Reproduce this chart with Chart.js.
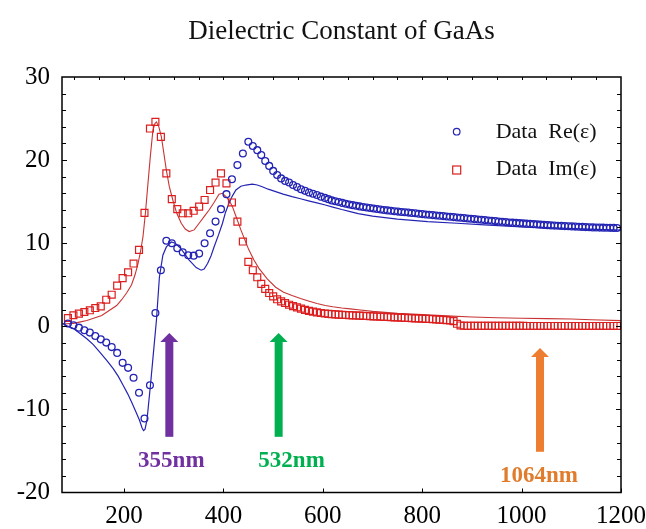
<!DOCTYPE html>
<html><head><meta charset="utf-8">
<script src="https://cdn.jsdelivr.net/npm/chart.js@4.4.0/dist/chart.umd.min.js"></script>
<style>html,body{margin:0;padding:0;background:#fff}canvas{display:block}</style>
</head><body>
<canvas id="c" width="646" height="529"></canvas>
<script>
const chartTitle = 'Dielectric Constant of GaAs';
const legendLabels = ['Data  Re(\u03b5)', 'Data  Im(\u03b5)'];
const laserLabels = ['355nm', '532nm', '1064nm'];

// wavelength grid (nm) shared by both data series
const wavelength = [
  87, 98, 109, 120, 131, 142, 153, 164, 175, 186,
  197, 208, 219, 230, 241, 252, 263, 274, 285, 296,
  307, 318, 329, 340, 351, 362, 373, 384, 395, 406,
  417, 428, 439, 450, 459, 468, 476, 484, 492, 500,
  508, 516, 524, 532, 540, 548, 556, 564, 572, 580,
  588, 596, 604, 611, 618, 625, 632, 639, 646, 653,
  660, 667, 674, 681, 688, 695, 702, 709, 716, 723,
  730, 737, 744, 751, 758, 765, 772, 779, 786, 793,
  800, 807, 814, 821, 828, 835, 842, 849, 856, 863,
  870, 877, 884, 891, 898, 905, 912, 919, 926, 933,
  940, 947, 954, 961, 968, 975, 982, 989, 996, 1003,
  1010, 1017, 1024, 1031, 1038, 1045, 1052, 1059, 1066, 1073,
  1080, 1087, 1094, 1101, 1108, 1115, 1122, 1129, 1136, 1143,
  1150, 1157, 1164, 1171, 1178, 1185, 1192
];
// Re(eps) data (circles)
const reData = [
  0.33, 0.12, -0.16, -0.48, -0.76, -1.17, -1.57, -1.96, -2.5, -3.2,
  -4.4, -5.0, -6.2, -8.0, -11.1, -7.1, 1.6, 6.75, 10.3, 10.0,
  9.4, 8.9, 8.55, 8.5, 8.75, 10.0, 11.2, 12.6, 14.1, 15.9,
  17.7, 19.4, 20.8, 22.2, 21.7, 21.2, 20.6, 19.9, 19.3, 18.7,
  18.2, 17.8, 17.5, 17.3, 17.0, 16.75, 16.5, 16.3, 16.1, 15.95,
  15.8, 15.6, 15.45, 15.3, 15.15, 15.05, 14.95, 14.85, 14.75, 14.65,
  14.58, 14.5, 14.43, 14.36, 14.3, 14.24, 14.18, 14.12, 14.06, 14.0,
  13.95, 13.9, 13.85, 13.8, 13.76, 13.72, 13.68, 13.64, 13.6, 13.55,
  13.5, 13.46, 13.42, 13.38, 13.34, 13.3, 13.26, 13.22, 13.18, 13.14,
  13.1, 13.06, 13.02, 12.98, 12.94, 12.9, 12.86, 12.82, 12.78, 12.74,
  12.7, 12.66, 12.62, 12.58, 12.54, 12.5, 12.47, 12.44, 12.41, 12.38,
  12.35, 12.32, 12.29, 12.26, 12.23, 12.2, 12.17, 12.14, 12.12, 12.1,
  12.08, 12.06, 12.04, 12.02, 12.0, 11.98, 11.96, 11.94, 11.92, 11.9,
  11.89, 11.88, 11.87, 11.86, 11.85, 11.84, 11.83
];
// Im(eps) data (squares)
const imData = [
  1.0, 1.33, 1.53, 1.72, 1.93, 2.2, 2.4, 3.2, 3.8, 4.9,
  5.8, 6.5, 7.55, 9.2, 13.65, 23.8, 24.6, 22.8, 18.4, 15.3,
  14.1, 13.6, 13.6, 13.9, 14.4, 15.2, 16.4, 17.3, 18.4, 17.2,
  14.9, 12.6, 10.2, 7.75, 6.75, 5.9, 5.1, 4.5, 4.0, 3.6,
  3.25, 3.0, 2.8, 2.6, 2.42, 2.27, 2.12, 1.98, 1.86, 1.76,
  1.67, 1.6, 1.54, 1.5, 1.47, 1.44, 1.41, 1.38, 1.36, 1.34,
  1.32, 1.3, 1.28, 1.26, 1.24, 1.22, 1.2, 1.18, 1.16, 1.14,
  1.12, 1.1, 1.08, 1.06, 1.04, 1.02, 1.0, 0.98, 0.96, 0.94,
  0.92, 0.9, 0.88, 0.86, 0.84, 0.81, 0.78, 0.74, 0.7, 0.62,
  0.3, 0.1, 0.06, 0.05, 0.05, 0.05, 0.05, 0.05, 0.05, 0.05,
  0.05, 0.05, 0.05, 0.05, 0.05, 0.05, 0.05, 0.05, 0.05, 0.05,
  0.04, 0.04, 0.04, 0.04, 0.04, 0.04, 0.04, 0.04, 0.04, 0.04,
  0.04, 0.04, 0.04, 0.04, 0.04, 0.04, 0.04, 0.04, 0.04, 0.04,
  0.04, 0.04, 0.04, 0.04, 0.04, 0.04, 0.04
];
// model fit curves
const reFitX = [76, 85, 98, 110, 125, 138, 151, 165, 178, 188, 198, 207, 215, 223, 231, 236, 239, 242, 246, 249, 253, 259, 265, 271, 278, 285, 295, 303, 311, 321, 331, 345, 355, 361, 368, 375, 381, 390, 398, 404, 411, 418, 425, 435, 445, 458, 468, 478, 490, 505, 520, 538, 555, 571, 588, 605, 620, 638, 655, 671, 700, 750, 811, 870, 925, 1000, 1100, 1200];
const reFitY = [0.35, 0.05, -0.28, -0.8, -1.5, -2.2, -3.1, -4.1, -5.1, -6.0, -7.1, -8.1, -9.1, -10.2, -11.3, -12.2, -12.55, -12.4, -11.3, -9.5, -7.1, -3.2, 0.7, 5.9, 8.55, 9.55, 10.15, 10.0, 9.55, 8.8, 7.95, 7.07, 6.75, 6.9, 7.55, 8.5, 9.55, 11.0, 12.4, 13.7, 14.8, 15.7, 16.4, 16.85, 17.0, 17.1, 17.0, 16.8, 16.5, 16.2, 15.9, 15.6, 15.35, 15.1, 14.85, 14.6, 14.35, 14.05, 13.8, 13.55, 13.25, 12.9, 12.6, 12.4, 12.2, 11.95, 11.75, 11.58];
const imFitX = [76, 85, 98, 110, 125, 140, 155, 170, 185, 195, 205, 215, 222, 228, 233, 238, 243, 248, 253, 258, 262, 265, 270, 275, 280, 285, 291, 298, 306, 315, 323, 331, 341, 351, 361, 371, 381, 391, 398, 405, 412, 418, 426, 435, 443, 451, 461, 471, 488, 505, 521, 538, 555, 571, 588, 605, 620, 638, 655, 671, 700, 750, 800, 850, 900, 950, 1000, 1050, 1100, 1140, 1200];
const imFitY = [0.3, 0.3, 0.35, 0.5, 0.7, 1.0, 1.3, 1.9, 2.5, 3.2, 4.0, 5.0, 6.2, 7.55, 9.0, 10.8, 13.7, 17.2, 20.6, 23.6, 24.4, 24.6, 24.0, 22.8, 20.8, 18.8, 16.8, 15.2, 13.6, 12.4, 11.7, 11.4, 11.6, 12.4, 13.2, 14.0, 14.9, 15.9, 16.0, 15.6, 15.1, 14.4, 13.1, 11.6, 10.4, 9.2, 8.0, 7.0, 5.7, 4.7, 4.1, 3.7, 3.35, 3.05, 2.75, 2.5, 2.35, 2.2, 2.1, 2.0, 1.8, 1.55, 1.4, 1.25, 1.12, 1.03, 0.96, 0.92, 0.88, 0.78, 0.68];

const xTicks = [200, 400, 600, 800, 1000, 1200];
const yTicks = [-20, -10, 0, 10, 20, 30];
const yMinorTicks = [-18, -16, -14, -12, -10, -8, -6, -4, -2, 0, 2, 4, 6, 8, 10, 12, 14, 16, 18, 20, 22, 24, 26, 28];
const xTopTicks = [100, 150, 200, 250, 300, 350, 400, 450, 500, 550, 600, 650, 700, 750, 800, 850, 900, 950, 1000, 1050, 1100, 1150];

const SERIF = '"Liberation Serif", "Times New Roman", serif';
const BLUE = '#2424b4';
const RED = '#dc1e1e';
const RED_LINE = '#c83434';

// annotation arrows (data coordinates)
const arrows = [
  { text: laserLabels[0], x: 291, tip: -0.8, base: -13.3, tx: 295, ty: -16.95, color: '#7030a0', tcolor: '#7030a0' },
  { text: laserLabels[1], x: 511, tip: -0.8, base: -13.3, tx: 537, ty: -16.95, color: '#00b050', tcolor: '#00b050' },
  { text: laserLabels[2], x: 1037, tip: -2.6, base: -15.1, tx: 1035, ty: -18.75, color: '#ed7d31', tcolor: '#e07c2c' }
];

const pts = (xs, ys) => xs.map((x, i) => ({ x: x, y: ys[i] }));

const decor = {
  id: 'decor',
  afterDraw(chart) {
    const { ctx, chartArea: a, scales: { x, y } } = chart;
    ctx.save();
    // title
    ctx.fillStyle = '#111';
    ctx.font = '27px ' + SERIF;
    ctx.textAlign = 'center';
    ctx.textBaseline = 'alphabetic';
    ctx.fillText(chartTitle, (a.left + a.right) / 2, 39);
    // frame ticks
    ctx.strokeStyle = '#000';
    ctx.lineWidth = 1;
    ctx.beginPath();
    yMinorTicks.forEach(v => {
      const py = Math.round(y.getPixelForValue(v)) + 0.5;
      const len = (v % 10 === 0) ? 5 : 4;
      ctx.moveTo(a.left, py); ctx.lineTo(a.left + len, py);
      ctx.moveTo(a.right, py); ctx.lineTo(a.right - len, py);
    });
    xTopTicks.forEach(v => {
      const px = Math.round(x.getPixelForValue(v)) + 0.5;
      ctx.moveTo(px, a.top); ctx.lineTo(px, a.top + 3);
    });
    xTicks.forEach(v => {
      const px = Math.round(x.getPixelForValue(v)) + 0.5;
      ctx.moveTo(px, a.bottom); ctx.lineTo(px, a.bottom - 4);
    });
    ctx.stroke();
    ctx.lineWidth = 1.5;
    ctx.strokeRect(a.left, a.top, a.right - a.left, a.bottom - a.top);
    // arrows
    arrows.forEach(ar => {
      const px = x.getPixelForValue(ar.x);
      const pt = y.getPixelForValue(ar.tip);
      const pb = y.getPixelForValue(ar.base);
      ctx.fillStyle = ar.color;
      ctx.fillRect(px - 4, pt + 8, 8, pb - pt - 8);
      ctx.beginPath();
      ctx.moveTo(px, pt);
      ctx.lineTo(px + 9, pt + 9);
      ctx.lineTo(px - 9, pt + 9);
      ctx.closePath();
      ctx.fill();
      ctx.fillStyle = ar.tcolor;
      ctx.font = 'bold 23px ' + SERIF;
      ctx.textAlign = 'center';
      ctx.textBaseline = 'alphabetic';
      ctx.fillText(ar.text, x.getPixelForValue(ar.tx), y.getPixelForValue(ar.ty));
    });
    // legend
    const lx = a.left + 394.7;
    ctx.lineWidth = 1.2;
    ctx.strokeStyle = BLUE;
    ctx.beginPath();
    ctx.arc(lx, a.top + 54.7, 3.3, 0, Math.PI * 2);
    ctx.stroke();
    ctx.strokeStyle = RED;
    ctx.strokeRect(lx - 4, a.top + 89, 8, 8);
    ctx.fillStyle = '#111';
    ctx.font = '22px ' + SERIF;
    ctx.textAlign = 'left';
    ctx.textBaseline = 'alphabetic';
    ctx.fillText(legendLabels[0], a.left + 433.7, a.top + 61.3);
    ctx.fillText(legendLabels[1], a.left + 433.7, a.top + 98);
    ctx.restore();
  }
};

new Chart(document.getElementById('c'), {
  type: 'scatter',
  data: {
    datasets: [
      { label: 'Re fit', data: pts(reFitX, reFitY), showLine: true, pointRadius: 0, borderColor: BLUE, borderWidth: 1.2, fill: false, order: 3 },
      { label: 'Im fit', data: pts(imFitX, imFitY), showLine: true, pointRadius: 0, borderColor: RED_LINE, borderWidth: 1.1, fill: false, order: 3 },
      { label: legendLabels[0], data: pts(wavelength, reData), pointStyle: 'circle', pointRadius: 3.4, pointBorderWidth: 1.3, borderColor: BLUE, backgroundColor: 'rgba(0,0,0,0)', order: 1 },
      { label: legendLabels[1], data: pts(wavelength, imData), pointStyle: 'rect', pointRadius: 4.9, pointBorderWidth: 1.2, borderColor: RED, backgroundColor: 'rgba(0,0,0,0)', order: 2 }
    ]
  },
  options: {
    responsive: false,
    animation: false,
    devicePixelRatio: 1,
    layout: { padding: { top: 77, right: 25, bottom: 0, left: 0 } },
    plugins: { legend: { display: false }, tooltip: { enabled: false }, title: { display: false } },
    scales: {
      x: {
        type: 'linear', min: 75, max: 1200,
        afterBuildTicks: s => { s.ticks = xTicks.map(v => ({ value: v })); },
        afterFit: s => { s.height = 36.5; s.paddingRight = 0; s.paddingLeft = 0; },
        grid: { display: false, drawTicks: false },
        border: { display: false },
        ticks: { padding: 9, color: '#000', font: { family: SERIF, size: 25 }, maxRotation: 0, autoSkip: false, callback: v => String(v) }
      },
      y: {
        type: 'linear', min: -20, max: 30,
        afterBuildTicks: s => { s.ticks = yTicks.map(v => ({ value: v })); },
        afterFit: s => { s.width = 62; s.paddingTop = 0; s.paddingBottom = 0; },
        grid: { display: false, drawTicks: false },
        border: { display: false },
        ticks: { padding: 12, color: '#000', font: { family: SERIF, size: 25 }, callback: v => String(v) }
      }
    }
  },
  plugins: [decor]
});
</script>
